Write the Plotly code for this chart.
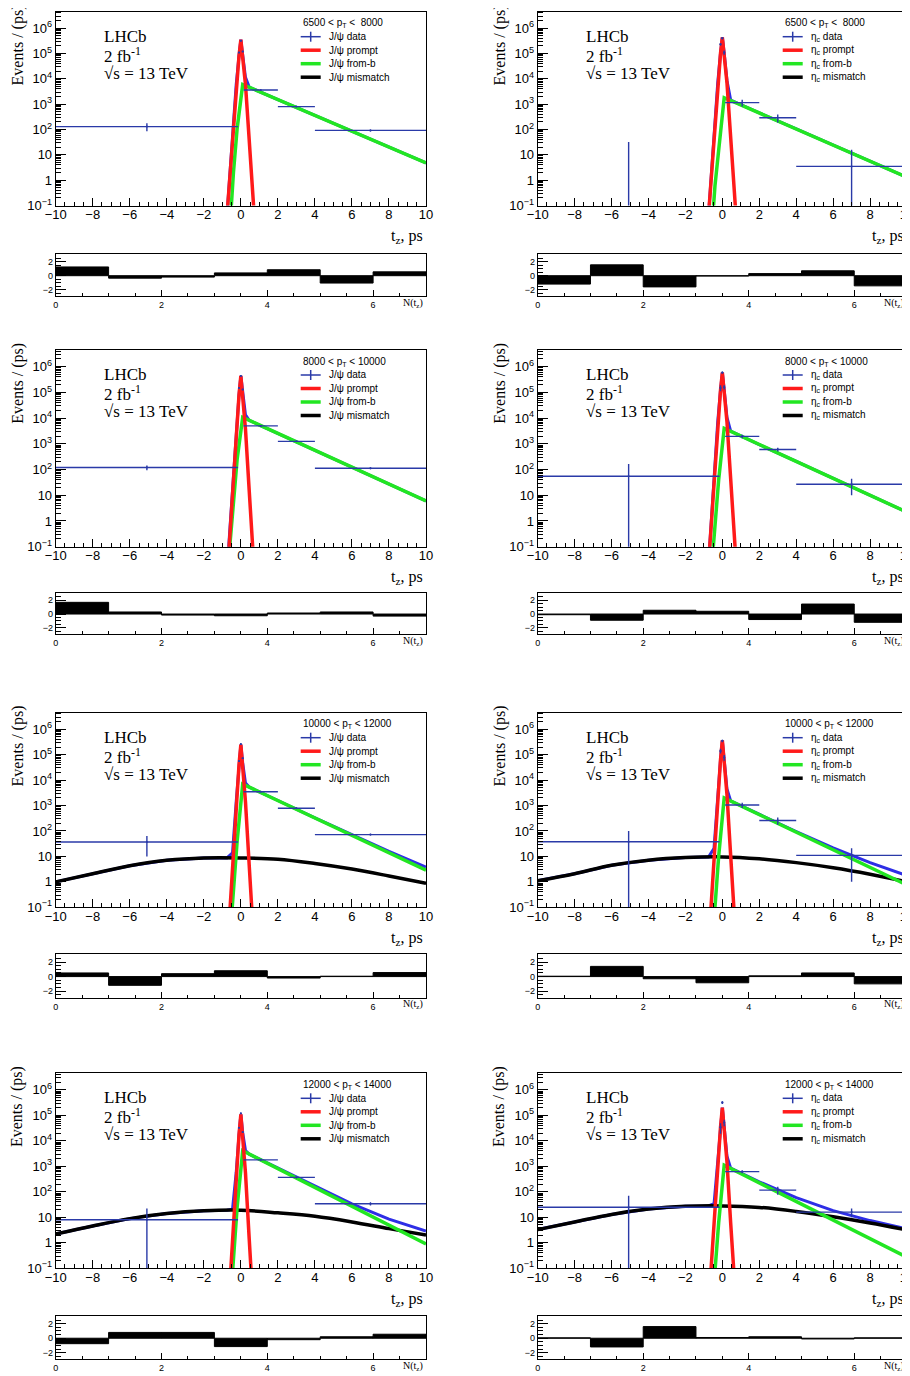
import plotly.graph_objects as go

W, H = 910, 1376

# ---------------- data ----------------
PT_LABELS = ["6500 < p<sub>T</sub> <  8000", "6500 < p<sub>T</sub> <  8000",
             "8000 < p<sub>T</sub> < 10000", "8000 < p<sub>T</sub> < 10000",
             "10000 < p<sub>T</sub> < 12000", "10000 < p<sub>T</sub> < 12000",
             "12000 < p<sub>T</sub> < 14000", "12000 < p<sub>T</sub> < 14000"]
PARTICLES = ["J/ψ", "η<sub>c</sub>"] * 4

# data bins: [-10,-0.15], [-0.15,-0.05], [-0.05,0.05], [0.05,0.15], [0.15,2], [2,4], [4,10]
DATA_X = [-5.075, -0.1, 0.0, 0.1, 1.075, 3.0, 7.0]
DATA_XERR = [4.925, 0.05, 0.05, 0.05, 0.925, 1.0, 3.0]
DATA_Y = [
    [130, 1.1e5, 3.2e5, 1.2e5, 3600, 800, 92],
    [0.01, 2.3e5, 4.0e5, 1.1e5, 1150, 290, 3.5],
    [120, 1.5e5, 4.4e5, 1.3e5, 5000, 1250, 113],
    [55, 1.5e5, 5.9e5, 1.6e5, 1950, 600, 27],
    [37, 5.6e4, 2.6e5, 7.2e4, 3500, 780, 72],
    [38, 1.4e5, 3.5e5, 7.8e4, 1050, 257, 11],
    [8, 3.3e4, 1.2e5, 2.2e4, 1800, 370, 34],
    [25, 3.4e4, 3.2e5, 5.2e4, 620, 117, 16],
]
DATA_ERR = [
    [45, 2e3, 4e3, 2e3, 120, 50, 8],
    [32, 3e4, 4e4, 2e4, 350, 100, 12.5],
    [25, 2e3, 4e3, 2e3, 150, 60, 10],
    [110, 4e4, 6e4, 3e4, 300, 100, 17],
    [27, 2e3, 4e3, 2e3, 120, 50, 6],
    [63, 3e4, 4e4, 2e4, 250, 80, 10],
    [14, 1.5e3, 3e3, 1.5e3, 90, 40, 5],
    [45, 1.5e4, 4e4, 1.5e4, 90, 40, 6],
]

RED_X = [-0.75, -0.45, -0.25, -0.1, 0.0, 0.1, 0.25, 0.45, 0.75]
RED_Y = [
    [0.04, 50, 6e3, 8e4, 3.5e5, 8e4, 6e3, 40, 0.02],
    [0.04, 60, 7e3, 1e5, 4.3e5, 1e5, 7e3, 50, 0.03],
    [0.005, 16, 3.7e3, 7.8e4, 4.4e5, 7.8e4, 3.7e3, 16, 0.005],
    [0.02, 44, 7.2e3, 1.2e5, 5.9e5, 1.2e5, 7.2e3, 44, 0.02],
    [0.001, 4.7, 1.4e3, 4e4, 2.5e5, 4e4, 1.4e3, 4.7, 0.001],
    [0.003, 11, 2.7e3, 6.2e4, 3.6e5, 6.2e4, 2.7e3, 11, 0.003],
    [0.0003, 1.5, 550, 1.7e4, 1.1e5, 1.7e4, 550, 1.5, 0.0003],
    [0.003, 6, 1.5e3, 3.4e4, 2e5, 3.4e4, 1.5e3, 6, 0.003],
]

GREEN_X = [-0.6, -0.4, -0.2, 0.1, 10.0]
GREEN_Y = [
    [0.01, 2, 110, 6e3, 4.8],
    [0.005, 0.6, 15, 1.8e3, 1.3],
    [0.1, 6, 250, 1.07e4, 6],
    [0.01, 1, 40, 4e3, 2.2],
    [0.005, 0.5, 40, 7e3, 2.9],
    [0.001, 0.1, 10, 2e3, 0.75],
    [0.002, 0.25, 25, 4.1e3, 0.9],
    [0.001, 0.1, 6, 1.1e3, 0.27],
]

BLACK_X = [-10, -8, -6, -4, -2, 0, 2, 4, 6, 8, 10]
BLACK_Y = [
    None, None, None, None,
    [1.0, 2.1, 4.3, 7.0, 8.7, 8.7, 7.8, 5.3, 3.2, 1.7, 0.87],
    [1.1, 2.1, 4.5, 7.1, 9.0, 9.6, 8.1, 5.7, 3.6, 2.0, 1.0],
    [2.2, 4.6, 8.9, 14, 18, 19, 15, 11, 6.6, 3.6, 2.0],
    [3.3, 6.6, 13, 21, 27, 28, 24.5, 17, 10.5, 6, 3.2],
]

BLUE_X = [-10, -8, -6, -4, -2, -0.75, -0.45, -0.25, -0.1, 0.0, 0.1, 0.25, 0.45, 1, 2, 4, 6, 8, 10]
BLUE_Y = [
    [None, None, None, None, None, 0.04, 51, 6.1e3, 8.1e4, 3.5e5, 8.6e4, 1.14e4, 4.7e3, 3.2e3, 1.5e3, 363, 85, 20, 4.8],
    [None, None, None, None, None, 0.04, 60, 7e3, 1e5, 4.3e5, 1.02e5, 8.6e3, 1.45e3, 940, 450, 105, 24, 5.6, 1.3],
    [None, None, None, None, None, 0.01, 19, 3.85e3, 8e4, 4.4e5, 8.9e4, 1.33e4, 8.2e3, 5.4e3, 2.6e3, 570, 124, 27, 6],
    [None, None, None, None, None, 0.02, 45, 7.2e3, 1.2e5, 5.9e5, 1.24e5, 1.08e4, 3.15e3, 2e3, 940, 207, 46, 10, 2.2],
    [1.0, 2.1, 4.3, 7.0, 8.7, 8.7, 13.7, 1.42e3, 4.03e4, 2.5e5, 4.7e4, 7.6e3, 5.3e3, 3.5e3, 1.58e3, 330, 70, 15.7, 3.8],
    [1.1, 2.1, 4.5, 7.1, 9.0, 9.5, 21, 2.7e3, 6.2e4, 3.6e5, 6.4e4, 4.5e3, 1.52e3, 980, 450, 95, 21.6, 5.7, 1.75],
    [2.2, 4.6, 8.9, 14, 18, 19, 21, 585, 1.72e4, 1.1e5, 2.1e4, 4.15e3, 3e3, 1.92e3, 835, 160, 33.6, 8.5, 2.9],
    [3.3, 6.6, 13, 21, 27, 28, 34, 1.53e3, 3.4e4, 2e5, 3.5e4, 2.5e3, 850, 537, 247, 59, 18.3, 7.45, 3.5],
]

PULL_X = [0.5, 1.5, 2.5, 3.5, 4.5, 5.5, 6.5]
PULLS = [
    [1.25, -0.35, -0.2, 0.4, 0.85, -1.05, 0.55],
    [-1.2, 1.55, -1.6, -0.05, 0.3, 0.7, -1.45],
    [1.7, 0.3, -0.15, -0.25, 0.15, 0.3, -0.3],
    [-0.1, -0.9, 0.55, 0.4, -0.8, 1.45, -1.2],
    [0.5, -1.2, 0.4, 0.8, -0.2, 0.05, 0.55],
    [0.05, 1.4, -0.3, -0.85, 0.1, 0.5, -1.0],
    [-0.75, 0.8, 0.8, -1.15, -0.2, 0.2, 0.55],
    [0.05, -1.2, 1.6, 0.1, 0.2, -0.1, 0.05],
]

X_TICKS = [-10, -8, -6, -4, -2, 0, 2, 4, 6, 8, 10]
X_TICKTEXT = ["−10", "−8", "−6", "−4", "−2", "0", "2", "4", "6", "8", "10"]
Y_TICKS = [0.1, 1, 10, 1e2, 1e3, 1e4, 1e5, 1e6]
Y_TICKTEXT = ["10<sup>−1</sup>", "1", "10", "10<sup>2</sup>", "10<sup>3</sup>",
              "10<sup>4</sup>", "10<sup>5</sup>", "10<sup>6</sup>"]

# ---------------- style / layout geometry ----------------
C_DATA = "#2a3aa8"
C_BLUE = "#2e2ee6"
C_RED = "#ff1a1a"
C_GREEN = "#22e622"
C_BLACK = "#000000"
SERIF = "Liberation Serif"
SANS = "Liberation Sans"

COL_X = [(55.7, 426.0), (537.7, 907.0)]
MAIN_Y = [(11.7, 205.5), (350.0, 546.7), (712.7, 907.3), (1073.3, 1268.3)]
PULL_Y = [(254.0, 296.0), (592.7, 634.0), (954.0, 997.7), (1315.7, 1359.3)]

OFF = 8  # the page body margin shifts the figure by 8 px


def fx(px):
    return (px - OFF) / W


def fy(py):
    return 1 - (py - OFF) / H


minor_log = [m * 10.0 ** e for e in range(-1, 7) for m in range(2, 10)]

fig = go.Figure()
layout = dict(width=W, height=H, margin=dict(l=0, r=0, t=0, b=0, autoexpand=False),
              paper_bgcolor="white", plot_bgcolor="white", showlegend=False,
              annotations=[], shapes=[])

for i in range(8):
    row, col = divmod(i, 2)
    km, kp = 2 * i + 1, 2 * i + 2
    xm = "x" if km == 1 else f"x{km}"
    ym = "y" if km == 1 else f"y{km}"
    xp, yp = f"x{kp}", f"y{kp}"
    xl, xr = COL_X[col]
    mt, mb = MAIN_Y[row]
    pt, pb = PULL_Y[row]

    axis_common = dict(showline=True, linecolor="black", linewidth=1, mirror=True,
                       showgrid=False, zeroline=False, ticks="inside", tickcolor="black",
                       tickwidth=1, automargin=False)
    layout["xaxis" if km == 1 else f"xaxis{km}"] = dict(
        axis_common, domain=[fx(xl), fx(xr)], anchor=ym, range=[-10, 10],
        tickmode="array", tickvals=X_TICKS, ticktext=X_TICKTEXT, ticklen=8,
        ticklabelstandoff=-3,
        minor=dict(ticks="inside", ticklen=4, tickmode="linear", tick0=0, dtick=0.5,
                   tickcolor="black"),
        tickfont=dict(family=SANS, size=13, color="black"))
    layout["yaxis" if km == 1 else f"yaxis{km}"] = dict(
        axis_common, domain=[fy(mb), fy(mt)], anchor=xm, type="log", range=[-1, 6.65],
        tickmode="array", tickvals=Y_TICKS, ticktext=Y_TICKTEXT, ticklen=10,
        minor=dict(ticks="inside", ticklen=5, tickmode="array", tickvals=minor_log,
                   tickcolor="black"),
        tickfont=dict(family=SANS, size=13, color="black"))
    layout[f"xaxis{kp}"] = dict(
        axis_common, domain=[fx(xl), fx(xr)], anchor=yp, range=[0, 7],
        tickmode="array", tickvals=[0, 2, 4, 6], ticktext=["0", "2", "4", "6"], ticklen=6,
        minor=dict(ticks="inside", ticklen=3, tickmode="linear", tick0=0, dtick=0.5,
                   tickcolor="black"),
        tickfont=dict(family=SANS, size=9, color="black"))
    layout[f"yaxis{kp}"] = dict(
        axis_common, domain=[fy(pb), fy(pt)], anchor=xp, range=[-2.9, 3.1],
        tickmode="array", tickvals=[-2, 0, 2], ticktext=["−2", "0", "2"], ticklen=10,
        minor=dict(ticks="inside", ticklen=5, tickmode="linear", tick0=0, dtick=0.5,
                   tickcolor="black"),
        tickfont=dict(family=SANS, size=9, color="black"))

    # ---- curves ----
    fig.add_trace(go.Scatter(x=BLUE_X, y=BLUE_Y[i], mode="lines", xaxis=xm, yaxis=ym,
                             line=dict(color=C_BLUE, width=3)))
    if BLACK_Y[i] is not None:
        fig.add_trace(go.Scatter(x=BLACK_X, y=BLACK_Y[i], mode="lines", xaxis=xm, yaxis=ym,
                                 line=dict(color=C_BLACK, width=3.5, shape="spline")))
    fig.add_trace(go.Scatter(x=GREEN_X, y=GREEN_Y[i], mode="lines", xaxis=xm, yaxis=ym,
                             line=dict(color=C_GREEN, width=3.5)))
    fig.add_trace(go.Scatter(x=RED_X, y=RED_Y[i], mode="lines", xaxis=xm, yaxis=ym,
                             line=dict(color=C_RED, width=3.5)))
    yv = DATA_Y[i]
    ev = DATA_ERR[i]
    em = [e if e < v else v for v, e in zip(yv, ev)]
    fig.add_trace(go.Scatter(
        x=DATA_X, y=yv, mode="markers", xaxis=xm, yaxis=ym,
        marker=dict(size=2, color=C_DATA),
        error_x=dict(type="data", array=DATA_XERR, width=0, thickness=1.4, color=C_DATA),
        error_y=dict(type="data", array=ev, arrayminus=em, width=0, thickness=1.4,
                     color=C_DATA)))

    # ---- pulls ----
    fig.add_trace(go.Bar(x=PULL_X, y=PULLS[i], width=1, xaxis=xp, yaxis=yp,
                         marker=dict(color="black", line=dict(color="black", width=1))))

    # ---- texts ----
    ann = layout["annotations"]
    for k, (txt, dy) in enumerate([("LHCb", 24.5), ("2 fb<sup>-1</sup>", 43),
                                   ("√s = 13 TeV", 61.5)]):
        ann.append(dict(text=txt, x=fx(xl + 46), y=fy(mt + dy), xref="paper", yref="paper",
                        xanchor="left", yanchor="middle", showarrow=False,
                        font=dict(family=SERIF, size=17, color="black")))
    ann.append(dict(text="Events / (ps)", x=fx(xl - 38), y=fy(mt + 33), xref="paper",
                    yref="paper", xanchor="center", yanchor="middle", textangle=-90,
                    showarrow=False, font=dict(family=SERIF, size=16, color="black")))
    ann.append(dict(text="t<sub>z</sub>, ps", x=fx(xr - 1), y=fy(mb + 31), xref="paper",
                    yref="paper", xanchor="right", yanchor="middle", showarrow=False,
                    font=dict(family=SERIF, size=16, color="black")))
    ann.append(dict(text="N(t<sub>z</sub>)", x=fx(xr - 1), y=fy(pb + 7), xref="paper",
                    yref="paper", xanchor="right", yanchor="middle", showarrow=False,
                    font=dict(family=SERIF, size=10, color="black")))
    # legend
    ann.append(dict(text=PT_LABELS[i], x=fx(xl + 245), y=fy(mt + 11.5), xref="paper",
                    yref="paper", xanchor="left", yanchor="middle", showarrow=False,
                    font=dict(family=SANS, size=10, color="black")))
    entries = [("data", C_DATA, 1.5), ("prompt", C_RED, 3.5), ("from-b", C_GREEN, 3.5),
               ("mismatch", C_BLACK, 3.5)]
    for k, (name, colr, lw) in enumerate(entries):
        yy = mt + 25 + 13.5 * k
        layout["shapes"].append(dict(type="line", xref="paper", yref="paper",
                                     x0=fx(xl + 245), x1=fx(xl + 265), y0=fy(yy), y1=fy(yy),
                                     line=dict(color=colr, width=lw)))
        if name == "data":
            layout["shapes"].append(dict(type="line", xref="paper", yref="paper",
                                         x0=fx(xl + 255), x1=fx(xl + 255), y0=fy(yy - 5),
                                         y1=fy(yy + 5), line=dict(color=colr, width=1.5)))
        ann.append(dict(text=f"{PARTICLES[i]} {name}", x=fx(xl + 271), y=fy(yy),
                        xref="paper", yref="paper", xanchor="left", yanchor="middle",
                        showarrow=False, font=dict(family=SANS, size=10, color="black")))

fig.update_layout(**layout)
fig.write_html("out.html")
